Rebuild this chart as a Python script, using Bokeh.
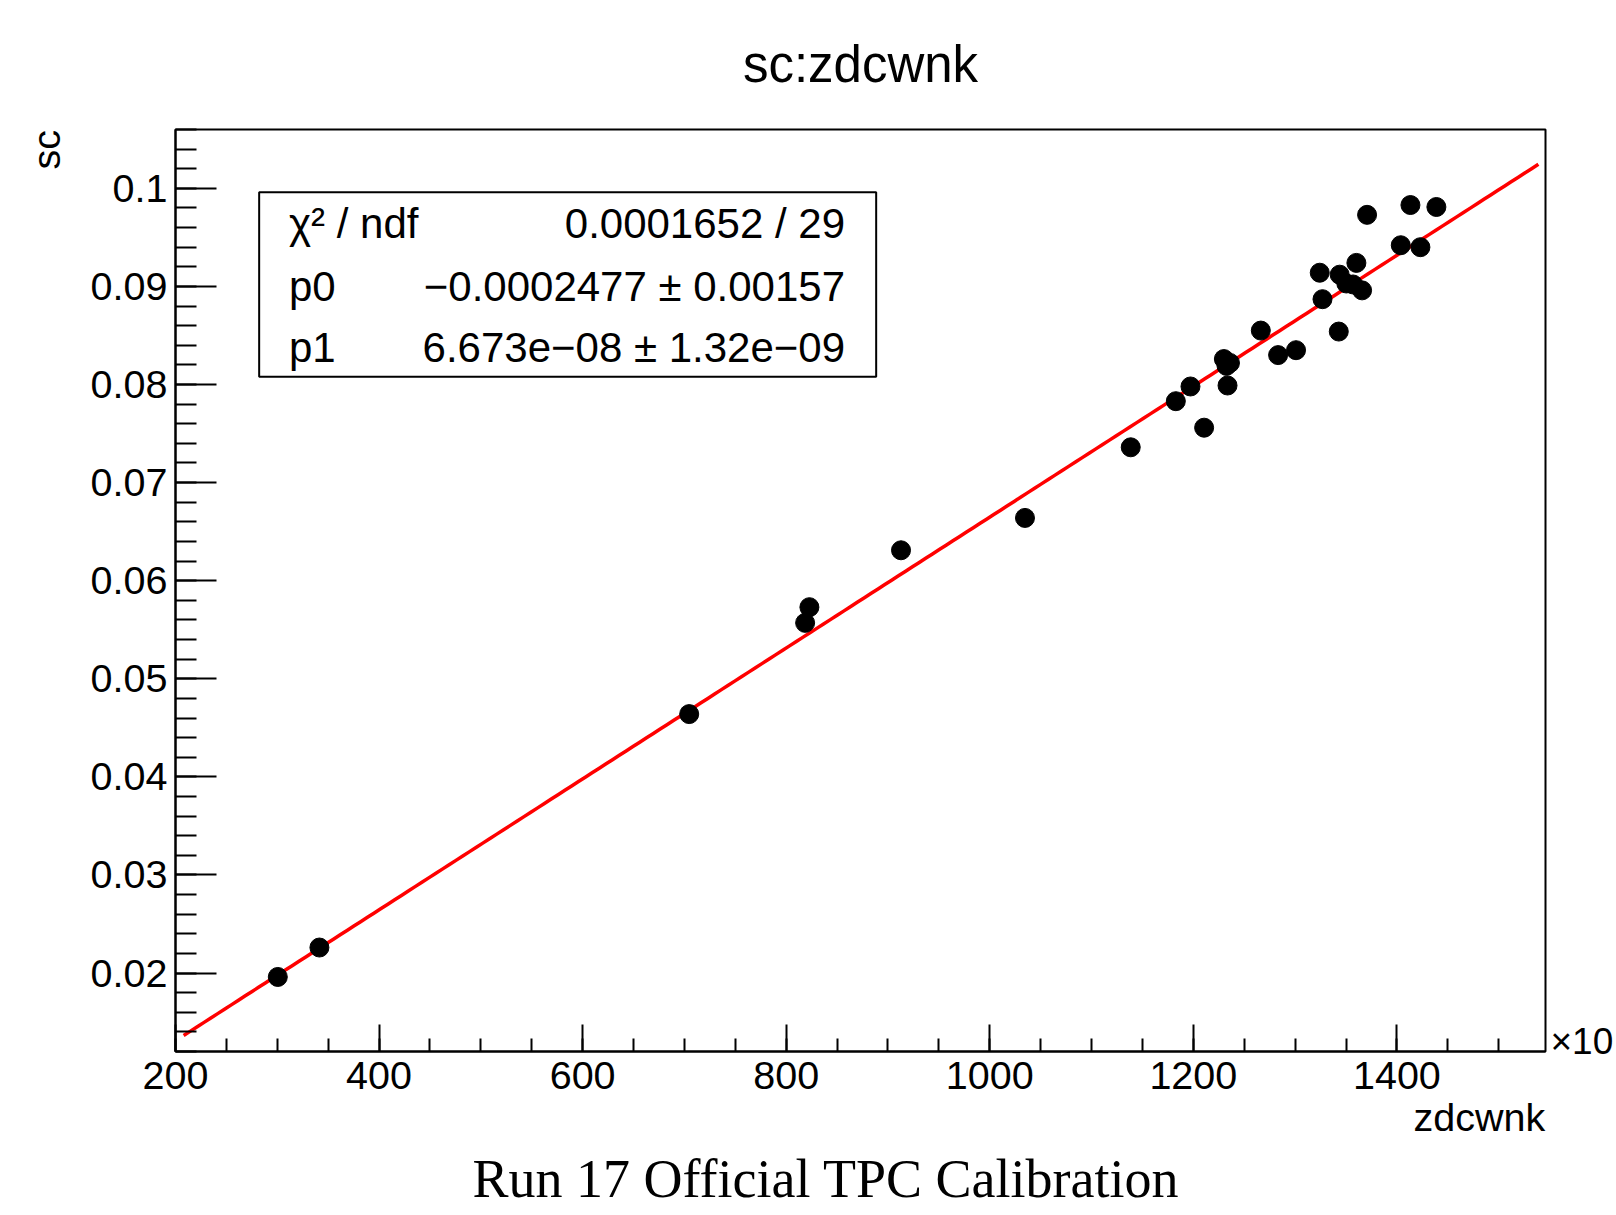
import numpy as np
from bokeh.plotting import figure
from bokeh.models import (Range1d, FixedTicker, CustomJSTickFormatter, Label, BoxAnnotation,
                          ColumnDataSource, LinearAxis, Title)
from bokeh.embed import file_html
from bokeh.resources import INLINE

# ---- data (zdcwnk in units of 10^3) ----
zdcwnk = [300.5, 341.4, 704.7, 818.6, 822.8, 912.8, 1034.6, 1138.5, 1182.8, 1197.2,
          1210.6, 1230.0, 1232.6, 1233.6, 1236.0, 1266.3, 1283.3, 1300.9, 1324.2, 1326.9,
          1342.9, 1343.8, 1350.3, 1356.9, 1360.2, 1365.8, 1370.7, 1403.8, 1413.3, 1423.1,
          1438.8]
sc = [0.0196, 0.0226, 0.0464, 0.0557, 0.0573, 0.0631, 0.0664, 0.0736, 0.0783, 0.0798,
      0.0756, 0.0826, 0.0819, 0.0799, 0.0822, 0.0855, 0.0830, 0.0835, 0.0914, 0.0887,
      0.0854, 0.0912, 0.0903, 0.0902, 0.0924, 0.0896, 0.0973, 0.0942, 0.0983, 0.0940,
      0.0981]

# fit parameters (pol1: sc = p0 + p1 * zdcwnk_raw)
p0 = -0.0002477
p1 = 6.673e-08
fit_range = [208.0, 1539.0]   # in units of 10^3

x_ticks = [200, 400, 600, 800, 1000, 1200, 1400]
y_ticks = [0.02, 0.03, 0.04, 0.05, 0.06, 0.07, 0.08, 0.09, 0.1]

stats_names = ["χ² / ndf", "p0", "p1"]
stats_values = ["0.0001652 / 29", "−0.0002477 ± 0.00157", "6.673e−08 ± 1.32e−09"]

title_text = "sc:zdcwnk"
x_label = "zdcwnk"
y_label = "sc"
multiplier = "×10"
caption = "Run 17 Official TPC Calibration"

FONT = "Liberation Sans"

W, H = 1616, 1215
FL, FR, FT, FB = 175, 1546, 129, 1051   # frame edges in canvas pixels

# ---- figure ----
p = figure(width=W, height=H,
           x_range=Range1d(200, 1546), y_range=Range1d(0.012, 0.106),
           output_backend="svg", toolbar_location=None,
           min_border_left=FL, min_border_right=W - FR,
           min_border_top=FT, min_border_bottom=H - FB)
p.background_fill_color = "white"
p.border_fill_color = "white"
p.outline_line_color = "black"
p.outline_line_width = 2
p.xgrid.visible = False
p.ygrid.visible = False

# title
p.title.text = title_text
p.title.align = "center"
p.title.vertical_align = "top"
p.title.text_font = FONT
p.title.text_font_size = "51px"
p.title.text_font_style = "normal"
p.title.text_color = "black"
p.title.standoff = 69

# axes
p.xaxis.ticker = FixedTicker(ticks=x_ticks, minor_ticks=list(np.arange(200, 1546, 50)))
p.yaxis.ticker = FixedTicker(ticks=y_ticks, minor_ticks=list(np.round(np.arange(0.012, 0.1061, 0.002), 4)))
p.yaxis.formatter = CustomJSTickFormatter(code="return parseFloat(tick.toFixed(4)).toString();")

for ax in (p.xaxis[0], p.yaxis[0]):
    ax.axis_line_color = "black"
    ax.axis_line_width = 2
    ax.major_tick_line_color = "black"
    ax.minor_tick_line_color = "black"
    ax.major_tick_line_width = 2
    ax.minor_tick_line_width = 2
    ax.major_tick_out = 0
    ax.minor_tick_out = 0
    ax.major_label_text_font = FONT
    ax.major_label_text_font_size = "39.5px"
    ax.major_label_text_color = "black"

p.xaxis[0].major_label_standoff = 10
p.yaxis[0].major_label_standoff = 8

p.xaxis.major_tick_in = 27
p.xaxis.minor_tick_in = 13
p.yaxis.major_tick_in = 41
p.yaxis.minor_tick_in = 21

# axis titles (ROOT style: at the far end of each axis)
ylab = Title(text=y_label, align="left", text_font=FONT, text_font_size="39.5px",
             text_font_style="normal", text_color="black", standoff=40,
             offset=FB - 169)
p.add_layout(ylab, "left")
xlab = Title(text=x_label, align="left", text_font=FONT, text_font_size="39.5px",
             text_font_style="normal", text_color="black", standoff=2,
             offset=1413 - FL)
p.add_layout(xlab, "below")

# multiplier shown at the right end of the x axis (as a label of a blank right axis)
rax = LinearAxis(ticker=FixedTicker(ticks=[0.013], minor_ticks=[]),
                 formatter=CustomJSTickFormatter(code="return '%s';" % multiplier))
rax.axis_line_alpha = 0
rax.major_tick_line_alpha = 0
rax.minor_tick_line_alpha = 0
rax.major_tick_in = 0
rax.major_tick_out = 0
rax.major_label_standoff = 5
rax.major_label_text_font = FONT
rax.major_label_text_font_size = "37px"
rax.major_label_text_color = "black"
p.add_layout(rax, "right")

# caption below the plot
cap = Title(text=caption, align="left", text_font="Liberation Serif",
            text_font_size="54px", text_font_style="normal", text_color="black",
            standoff=14, offset=297)
p.add_layout(cap, "below")

# fit line
fx = np.linspace(fit_range[0], fit_range[1], 200)
fy = p0 + p1 * fx * 1e3
p.line(fx, fy, line_color="#ff0000", line_width=3.5)

# data points
src = ColumnDataSource(dict(x=zdcwnk, y=sc))
p.scatter("x", "y", source=src, size=19, fill_color="black", line_color="black", marker="circle")

# stats box
p.add_layout(BoxAnnotation(left=282.2, right=888.4, top=0.09959, bottom=0.08078,
                           fill_color="white", fill_alpha=1.0,
                           line_color="black", line_width=2, line_alpha=1.0))
row_y = [0.09645, 0.09002, 0.08380]
for name, val, yy in zip(stats_names, stats_values, row_y):
    p.add_layout(Label(x=311.5, y=yy, text=name, text_font=FONT, text_font_size="42px",
                       text_align="left", text_baseline="alphabetic", text_color="black"))
    p.add_layout(Label(x=857.8, y=yy, text=val, text_font=FONT, text_font_size="42px",
                       text_align="right", text_baseline="alphabetic", text_color="black"))

open("out.html", "w").write(file_html(p, INLINE))
